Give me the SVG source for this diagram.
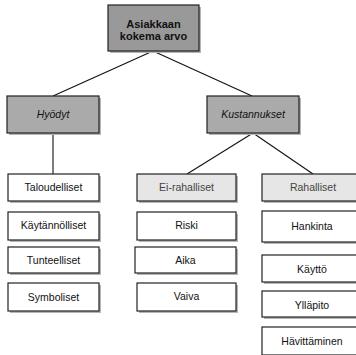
<svg xmlns="http://www.w3.org/2000/svg" width="356" height="355" viewBox="0 0 356 355">
<defs>
<style>
.sh{fill:#b5b5b5}
.b{stroke:#222;stroke-width:1.2}
.w{fill:#fff}
.l{fill:#e6e6e6}
.m{fill:#aaaaaa}
.d{fill:#999999}
text{font-family:"Liberation Sans",Arial,sans-serif;font-size:10.5px;text-anchor:middle;fill:#111}
.bo{font-weight:bold;font-size:11px}
.it{font-style:italic}
.g{fill:#444}
.c{stroke:#111;stroke-width:1.1;fill:none}
</style>
</defs>
<rect width="356" height="355" fill="#fff"/>
<g id="connectors">
<line class="c" x1="153" y1="51" x2="53" y2="96"/>
<line class="c" x1="153" y1="51" x2="252" y2="96"/>
<line class="c" x1="53" y1="133" x2="53" y2="174"/>
<line class="c" x1="253" y1="133" x2="187" y2="174"/>
<line class="c" x1="253" y1="133" x2="313" y2="174"/>
</g>
<g id="n-arvo"><rect class="sh" x="110" y="7" width="91" height="46"/><rect class="b d" x="108" y="5" width="91" height="46"/><text class="bo" x="153.5" y="28">Asiakkaan</text><text class="bo" x="153.5" y="40">kokema arvo</text></g>
<g id="n-hyodyt"><rect class="sh" x="9" y="98" width="92" height="37"/><rect class="b m" x="7" y="96" width="92" height="37"/><text class="it" x="53" y="118">Hyödyt</text></g>
<g id="n-kustannukset"><rect class="sh" x="209" y="98" width="92" height="37"/><rect class="b m" x="207" y="96" width="92" height="37"/><text class="it" x="253" y="118">Kustannukset</text></g>
<g id="n-taloudelliset"><rect class="sh" x="10" y="176" width="91" height="27"/><rect class="b w" x="8" y="174" width="91" height="27"/><text x="53.5" y="191">Taloudelliset</text></g>
<g id="n-kaytannolliset"><rect class="sh" x="10" y="214" width="91" height="28"/><rect class="b w" x="8" y="212" width="91" height="28"/><text x="53.5" y="229">Käytännölliset</text></g>
<g id="n-tunteelliset"><rect class="sh" x="10" y="249" width="91" height="26"/><rect class="b w" x="8" y="247" width="91" height="26"/><text x="53.5" y="264">Tunteelliset</text></g>
<g id="n-symboliset"><rect class="sh" x="10" y="285" width="91" height="28"/><rect class="b w" x="8" y="283" width="91" height="28"/><text x="53.5" y="301">Symboliset</text></g>
<g id="n-eirahalliset"><rect class="sh" x="139" y="176" width="99" height="27"/><rect class="b l" x="137" y="174" width="99" height="27"/><text class="g" x="186.5" y="191">Ei-rahalliset</text></g>
<g id="n-riski"><rect class="sh" x="139" y="214" width="99" height="28"/><rect class="b w" x="137" y="212" width="99" height="28"/><text x="186.5" y="229">Riski</text></g>
<g id="n-aika"><rect class="sh" x="137" y="249" width="101" height="26"/><rect class="b w" x="135" y="247" width="101" height="26"/><text x="185.5" y="264">Aika</text></g>
<g id="n-vaiva"><rect class="sh" x="139" y="285" width="99" height="28"/><rect class="b w" x="137" y="283" width="99" height="28"/><text x="186.5" y="300">Vaiva</text></g>
<g id="n-rahalliset"><rect class="sh" x="264" y="176" width="100" height="27"/><rect class="b l" x="262" y="174" width="100" height="27"/><text class="g" x="313" y="191">Rahalliset</text></g>
<g id="n-hankinta"><rect class="sh" x="264" y="213" width="100" height="31"/><rect class="b w" x="262" y="211" width="100" height="31"/><text x="312" y="230">Hankinta</text></g>
<g id="n-kaytto"><rect class="sh" x="264" y="257" width="100" height="27"/><rect class="b w" x="262" y="255" width="100" height="27"/><text x="312" y="273">Käyttö</text></g>
<g id="n-yllapito"><rect class="sh" x="264" y="293" width="100" height="26"/><rect class="b w" x="262" y="291" width="100" height="26"/><text x="312" y="309">Ylläpito</text></g>
<g id="n-havittaminen"><rect class="sh" x="264" y="329" width="100" height="28"/><rect class="b w" x="262" y="327" width="100" height="28"/><text x="312" y="345">Hävittäminen</text></g>
</svg>
